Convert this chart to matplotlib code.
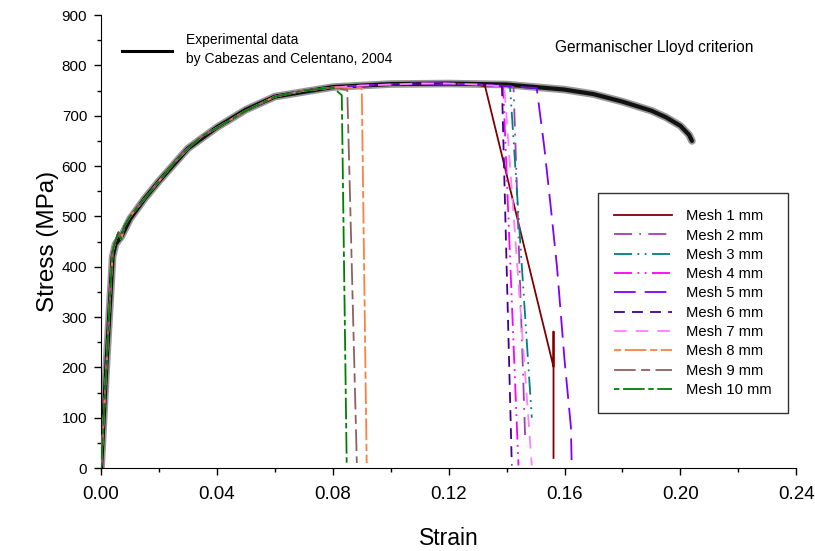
import matplotlib; matplotlib.use("Agg")
import matplotlib.pyplot as plt
import numpy as np
from matplotlib.lines import Line2D
from matplotlib.ticker import MultipleLocator

plt.rcParams['font.family'] = ['Liberation Sans', 'DejaVu Sans']

# ── Data ───────────────────────────────────────────────────────────────────
exp_strain = [0, 0.002, 0.004, 0.005, 0.007, 0.010, 0.015, 0.020, 0.030, 0.040,
              0.050, 0.060, 0.080, 0.100, 0.120, 0.140, 0.160, 0.170, 0.180,
              0.190, 0.195, 0.200, 0.203, 0.204]
exp_stress = [0, 220, 420, 445, 460, 495, 535, 570, 635, 677,
              712, 738, 757, 763, 764, 762, 752, 743, 728,
              710, 697, 680, 662, 650]

# shared pre-failure path of the simulations
base_strain = [0, 0.001, 0.002, 0.003, 0.004, 0.005, 0.006, 0.007, 0.008, 0.010,
               0.015, 0.020, 0.025, 0.030, 0.035, 0.040, 0.050, 0.060, 0.070,
               0.080, 0.090, 0.100, 0.110, 0.120, 0.130, 0.140, 0.150]
base_stress = [0, 110, 220, 330, 430, 452, 468, 455, 480, 500,
               535, 570, 605, 635, 660, 676, 710, 738, 750,
               756, 760, 762, 764, 764, 762, 759, 755]

mesh_names = [f"Mesh {i} mm" for i in range(1, 11)]
drop_strain = [
    [0.1326, 0.1562, 0.1562, 0.1562],
    [0.1424, 0.1464],
    [0.1412, 0.1487],
    [0.1388, 0.1441],
    [0.1504, 0.153, 0.155, 0.1574, 0.160, 0.1622, 0.1625],
    [0.1384, 0.1418],
    [0.1392, 0.1487],
    [0.0900, 0.0917],
    [0.0850, 0.0883],
    [0.0831, 0.0848],
]
drop_stress = [
    [758, 201, 271, 20],
    [757, 62],
    [757, 100],
    [758, 5],
    [755, 638, 532, 400, 215, 82, 0],
    [758, 5],
    [758, 5],
    [755, 10],
    [751, 10],
    [741, 8],
]

colors = ["#800000", "#A040B0", "#008080", "#FF00FF", "#8000FF",
          "#400090", "#FF80FF", "#FF8040", "#906060", "#008000"]
styles = ["-", (0, (10, 4, 1, 4)), (0, (10, 3, 1, 3, 1, 3)), (0, (10, 3, 1, 3, 1, 3)),
          (0, (12, 5)), (0, (6, 4)), (0, (7, 5)), (0, (4, 2, 12, 2)),
          (0, (12, 3, 5, 3)), (0, (3, 2, 12, 2))]

# ── Plot ───────────────────────────────────────────────────────────────────
fig = plt.figure(figsize=(8.15, 5.51), dpi=100)
ax = fig.add_axes([0.124, 0.1506, 0.853, 0.822])

ax.plot(exp_strain, exp_stress, color="#444444", lw=5.5, alpha=0.55,
        solid_capstyle="round", zorder=2)
ax.plot(exp_strain, exp_stress, color="#111111", lw=3, zorder=3,
        solid_capstyle="round")

bs = np.array(base_strain); bst = np.array(base_stress)
handles = []
for name, ds, dst, c, ls in zip(mesh_names, drop_strain, drop_stress, colors, styles):
    keep = bs < ds[0]
    x = np.concatenate([bs[keep], ds])
    y = np.concatenate([bst[keep], dst])
    lw = 1.3
    ax.plot(x, y, color=c, ls=ls, lw=lw, zorder=4)
    handles.append(Line2D([], [], color=c, ls=ls, lw=lw, label=name))

ax.set_xlim(0, 0.24)
ax.set_ylim(0, 900)
ax.xaxis.set_major_locator(MultipleLocator(0.04))
ax.xaxis.set_minor_locator(MultipleLocator(0.02))
ax.yaxis.set_major_locator(MultipleLocator(100))
ax.yaxis.set_minor_locator(MultipleLocator(50))
ax.xaxis.set_major_formatter(plt.FuncFormatter(lambda v, p: f"{v:.2f}"))
ax.tick_params(direction="out", length=5, width=1)
ax.tick_params(axis="x", pad=8, labelsize=13.5)
ax.tick_params(axis="y", pad=5, labelsize=11)
ax.tick_params(which="minor", direction="out", length=3, width=1)
ax.spines["top"].set_visible(False)
ax.spines["right"].set_visible(False)
ax.set_xlabel("Strain", fontsize=16.5, labelpad=17)
ax.set_ylabel("Stress (MPa)", fontsize=17.5, labelpad=2)

leg = ax.legend(handles=handles, loc="upper left",
                bbox_to_anchor=(0.715, 0.607), borderaxespad=0,
                fontsize=10.6, frameon=True, fancybox=False, edgecolor="black",
                handlelength=3.9, borderpad=1.1, labelspacing=0.36,
                handletextpad=1.0)
leg.get_frame().set_linewidth(1.0)
ax.add_artist(leg)

exp_handle = Line2D([], [], color="black", lw=2.2)
ax.legend([exp_handle], ["Experimental data\nby Cabezas and Celentano, 2004"],
          loc="upper left", bbox_to_anchor=(0.012, 0.987), frameon=False,
          handlelength=3.6, handletextpad=1.0,
          prop={"size": 10}).get_texts()[0].set_linespacing(1.45)

ax.text(0.653, 0.929, "Germanischer Lloyd criterion", transform=ax.transAxes,
        fontsize=11.2, va="center", ha="left")

fig.savefig("out.png", dpi=100)
